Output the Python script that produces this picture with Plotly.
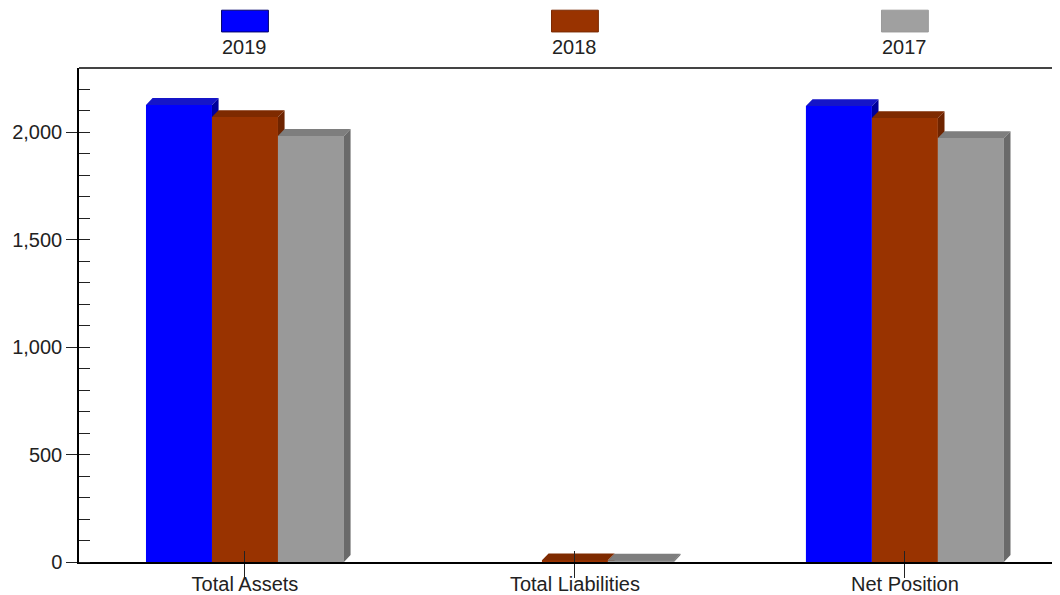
import plotly.graph_objects as go

categories = ["Total Assets", "Total Liabilities", "Net Position"]
years = ["2019", "2018", "2017"]
values_2019 = [2126, 0, 2121]
values_2018 = [2070, 8, 2065]
values_2017 = [1982, 6, 1972]
y_max = 2298

series = [values_2019, values_2018, values_2017]
front_colors = ["#0000FF", "#993300", "#999999"]
top_colors = ["#1515C8", "#7E2A00", "#7E7E7E"]
side_colors = ["#00009A", "#6E2400", "#6A6A6A"]
legend_fill = ["#0000FF", "#993300", "#A0A0A0"]
legend_line = ["#00006A", "#7A2900", "#9A9A9A"]

BAR_W = 0.2
DX = 0.02       # depth in x (category units)
DY = 32.0       # depth in y (value units)

fig = go.Figure()

offsets = [-BAR_W, 0.0, BAR_W]
for j, vals in enumerate(series):
    fig.add_trace(go.Bar(
        x=[i + offsets[j] for i in range(len(categories))],
        y=vals, width=BAR_W, name=years[j],
        marker=dict(color=front_colors[j], line=dict(width=0)),
        showlegend=False, hoverinfo="skip",
    ))

# 3-D faces, built from the same values
for j, vals in enumerate(series):
    sx, sy, tx, ty = [], [], [], []
    for i, v in enumerate(vals):
        if not v:
            continue
        x0 = i + offsets[j] - BAR_W / 2
        x1 = x0 + BAR_W
        nxt = series[j + 1][i] if j < 2 else 0
        lower = nxt if nxt < v else v
        if lower < v:
            lo_r = lower + DY if lower == 0 else lower
            sx += [x1, x1 + DX, x1 + DX, x1, x1, None]
            sy += [lower, lo_r, v + DY, v, lower, None]
        tx += [x0, x0 + DX, x1 + DX, x1, x0, None]
        ty += [v, v + DY, v + DY, v, v, None]
    fig.add_trace(go.Scatter(x=sx, y=sy, fill="toself", mode="lines",
                             line=dict(width=0), fillcolor=side_colors[j],
                             showlegend=False, hoverinfo="skip"))
    fig.add_trace(go.Scatter(x=tx, y=ty, fill="toself", mode="lines",
                             line=dict(width=0), fillcolor=top_colors[j],
                             showlegend=False, hoverinfo="skip"))

# invisible trace for overlay axes (inner half of crossing ticks)
fig.add_trace(go.Scatter(x=[0, 1, 2], y=[0, 0, 0], xaxis="x2", yaxis="y2",
                         mode="markers", marker=dict(opacity=0),
                         showlegend=False, hoverinfo="skip"))

font = "Liberation Sans, Arial, sans-serif"
FS = 20
x_range = [-0.503, 2.470]

fig.update_layout(
    width=1052, height=587,
    margin=dict(l=71, r=0, t=60, b=33),
    paper_bgcolor="white", plot_bgcolor="white",
    font=dict(family=font, size=FS, color="#222222"),
    barmode="overlay",
    xaxis=dict(range=x_range, tickvals=[0, 1, 2], ticktext=categories,
               showgrid=False, zeroline=False, showline=True,
               linecolor="black", linewidth=2, ticks="outside", ticklen=14,
               tickcolor="#222222", tickwidth=1,
               tickfont=dict(size=FS, color="#222222"),
               ticklabelstandoff=-11, automargin=False, fixedrange=True),
    yaxis=dict(range=[0, y_max], dtick=500, tick0=0, tickformat=",",
               showgrid=False, zeroline=False, showline=True,
               linecolor="black", linewidth=1.5, ticks="outside", ticklen=11,
               tickcolor="#222222", tickwidth=1.2,
               tickfont=dict(size=FS, color="#222222"),
               minor=dict(ticks="inside", dtick=100, ticklen=11,
                          tickcolor="#222222", tickwidth=1.2, showgrid=False),
               automargin=False, fixedrange=True),
    xaxis2=dict(range=x_range, overlaying="x", anchor="y2", side="bottom",
                tickvals=[0, 1, 2], showticklabels=False, ticks="inside",
                ticklen=11, tickcolor="#222222", tickwidth=1,
                showgrid=False, zeroline=False, showline=False),
    yaxis2=dict(range=[0, y_max], overlaying="y", anchor="x2", side="left",
                dtick=500, tick0=0, showticklabels=False, ticks="inside",
                ticklen=11, tickcolor="#222222", tickwidth=1.2,
                showgrid=False, zeroline=False, showline=False),
)

# top frame line
fig.add_shape(type="line", xref="paper", yref="paper", x0=0, x1=1, y0=1, y1=1,
              line=dict(color="#444444", width=2))

# custom legend (swatch above label), centred over each category
for j, yr in enumerate(years):
    fig.add_shape(type="rect", xref="x", yref="paper",
                  x0=j - 0.071, x1=j + 0.071, y0=1.073, y1=1.117,
                  fillcolor=legend_fill[j],
                  line=dict(color=legend_line[j], width=1))
    fig.add_annotation(x=j, xref="x", y=1.042, yref="paper", text=yr,
                       showarrow=False, yanchor="middle",
                       font=dict(size=FS, color="#222222", family=font))

fig.write_html("out.html")
